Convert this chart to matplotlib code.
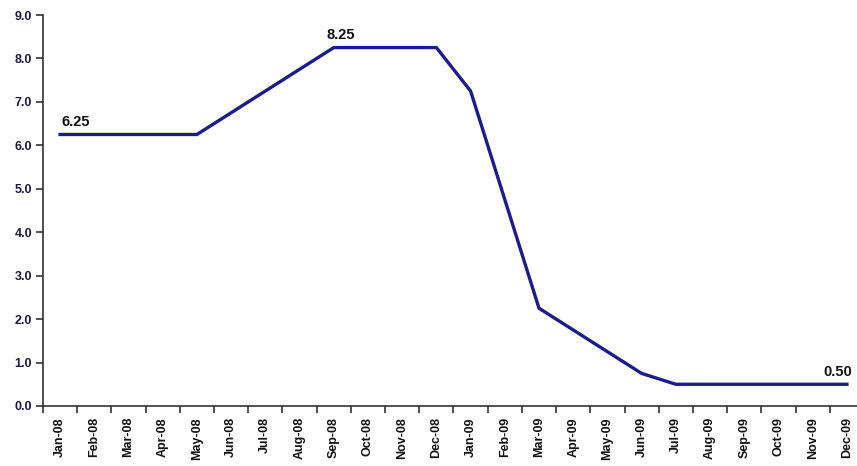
import matplotlib.pyplot as plt
import numpy as np

months = ['Jan-08', 'Feb-08', 'Mar-08', 'Apr-08', 'May-08', 'Jun-08', 'Jul-08', 'Aug-08',
          'Sep-08', 'Oct-08', 'Nov-08', 'Dec-08', 'Jan-09', 'Feb-09', 'Mar-09', 'Apr-09',
          'May-09', 'Jun-09', 'Jul-09', 'Aug-09', 'Sep-09', 'Oct-09', 'Nov-09', 'Dec-09']
rate = [6.25, 6.25, 6.25, 6.25, 6.25, 6.75, 7.25, 7.75,
        8.25, 8.25, 8.25, 8.25, 7.25, 4.75, 2.25, 1.75,
        1.25, 0.75, 0.50, 0.50, 0.50, 0.50, 0.50, 0.50]
# index -> (text, horizontal offset in points)
labelled = {0: ('6.25', 1), 8: ('8.25', -5), 23: ('0.50', -17)}

plt.rcParams['font.family'] = ['Liberation Sans', 'DejaVu Sans']

fig = plt.figure(figsize=(8.57, 4.66), dpi=100)
ax = fig.add_axes([43 / 857, 60 / 466, 821 / 857, 391 / 466])

x = np.arange(len(months))
ax.plot(x, rate, color='#1c1c8c', linewidth=2.4, solid_joinstyle='miter')

for i, (txt, dx) in labelled.items():
    ax.annotate(txt, (x[i], rate[i]), xytext=(dx, 4), textcoords='offset points',
                ha='left', va='bottom', fontsize=10.5, fontweight='bold', color='#111111')

ax.set_xlim(-0.5, len(months) - 0.5)
ax.set_ylim(0, 9)
yt = np.arange(0, 9.5, 1.0)
ax.set_yticks(yt)
ax.set_yticklabels([f'{v:.1f}' for v in yt], fontsize=9, fontweight='bold', color='#1a1a40')

ax.set_xticks(x)
ax.set_xticklabels(months, rotation=90, fontsize=9, fontweight='bold', color='#111111')
ax.set_xticks(np.arange(-0.5, len(months), 1.0), minor=True)
ax.tick_params(axis='x', which='major', length=0, pad=8)
ax.tick_params(axis='x', which='minor', length=5, width=1.2, color='#333333')
ax.tick_params(axis='y', length=5, width=1.2, color='#333333', pad=3)

ax.spines['top'].set_visible(False)
ax.spines['right'].set_visible(False)
for s in ('left', 'bottom'):
    ax.spines[s].set_color('#333333')
    ax.spines[s].set_linewidth(1.2)

fig.savefig('out.png', dpi=100)
